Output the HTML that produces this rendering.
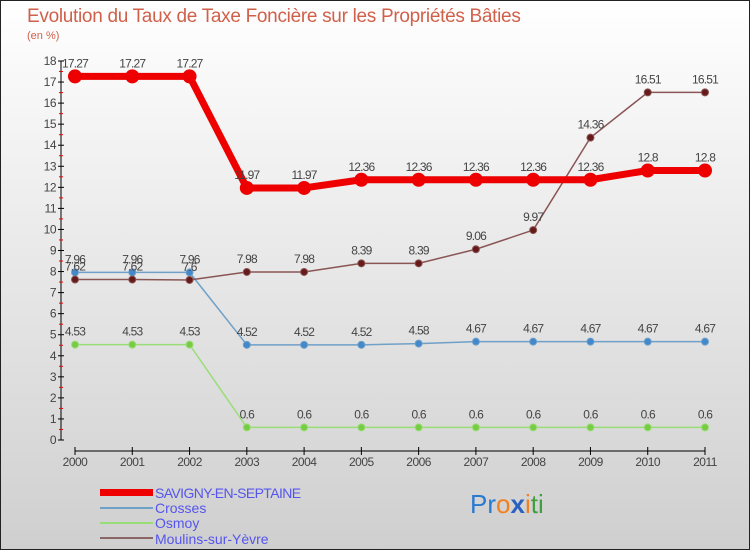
<!DOCTYPE html>
<html><head><meta charset="utf-8"><style>
body{margin:0}
svg text{font-family:"Liberation Sans",sans-serif}
</style></head><body>
<svg id="c" width="750" height="550" xmlns="http://www.w3.org/2000/svg">
<defs><linearGradient id="bg" x1="0" y1="0" x2="0" y2="1"><stop offset="0" stop-color="#ffffff"/><stop offset="1" stop-color="#cfcfcf"/></linearGradient></defs>
<rect x="0.5" y="0.5" width="749" height="549" fill="url(#bg)" stroke="#222"/>
<text x="27" y="22" font-size="19" fill="#d0604a" letter-spacing="-0.3">Evolution du Taux de Taxe Foncière sur les Propriétés Bâties</text>
<text x="27" y="39" font-size="11" fill="#d0604a">(en %)</text>
<g id="axes"></g><g id="series"></g>
<g>
<rect x="100" y="489" width="53" height="7" fill="#e00"/>
<text x="155" y="498" font-size="14" fill="#5555ee" letter-spacing="-0.6">SAVIGNY-EN-SEPTAINE</text>
<rect x="100" y="507" width="53" height="2" fill="#6fa0c8"/>
<text x="155" y="513" font-size="14" fill="#5555ee">Crosses</text>
<rect x="100" y="522" width="53" height="2" fill="#99dd77"/>
<text x="155" y="528" font-size="14" fill="#5555ee">Osmoy</text>
<rect x="100" y="537" width="53" height="2" fill="#8a6666"/>
<text x="155" y="544" font-size="14" fill="#5555ee">Moulins-sur-Yèvre</text>
</g>
<text x="470" y="513" font-size="26"><tspan fill="#2a7ad0">Pr</tspan><tspan fill="#f08020">o</tspan><tspan fill="#2a60c0" font-weight="bold">x</tspan><tspan fill="#f08020">i</tspan><tspan fill="#40a040">ti</tspan></text>
</svg>
<script>
const years=[2000,2001,2002,2003,2004,2005,2006,2007,2008,2009,2010,2011];
const savigny=[17.27,17.27,17.27,11.97,11.97,12.36,12.36,12.36,12.36,12.36,12.8,12.8];
const crosses=[7.96,7.96,7.96,4.52,4.52,4.52,4.58,4.67,4.67,4.67,4.67,4.67];
const osmoy=[4.53,4.53,4.53,0.6,0.6,0.6,0.6,0.6,0.6,0.6,0.6,0.6];
const moulins=[7.62,7.62,7.6,7.98,7.98,8.39,8.39,9.06,9.97,14.36,16.51,16.51];
const yTicks=[0,1,2,3,4,5,6,7,8,9,10,11,12,13,14,15,16,17,18];
const NS="http://www.w3.org/2000/svg";
const x=i=>75+i*(630/(years.length-1));
const y=v=>440-v*(379/18);
function mk(p,t,a){const e=document.createElementNS(NS,t);for(const k in a)e.setAttribute(k,a[k]);p.appendChild(e);return e;}
const ax=document.getElementById('axes');
let l=mk(ax,'line',{x1:61,y1:y(18),x2:61,y2:y(0),stroke:'#000'});


yTicks.forEach(v=>{
 mk(ax,'line',{x1:58,x2:64,y1:y(v),y2:y(v),stroke:'#000'});
 if(v<18)mk(ax,'line',{x1:59,x2:63,y1:y(v+0.5),y2:y(v+0.5),stroke:'#e00'});
 const t=mk(ax,'text',{x:56,y:y(v)+4,'font-size':12,fill:'#444','text-anchor':'end','letter-spacing':'-0.5'});
 t.textContent=v;
 
 
});
l=mk(ax,'line',{x1:x(0),y1:451,x2:x(years.length-1),y2:451,stroke:'#000'});


years.forEach((yr,i)=>{
 mk(ax,'line',{x1:x(i),x2:x(i),y1:447,y2:455,stroke:'#000'});
 const t=mk(ax,'text',{x:x(i),y:466,'font-size':12,fill:'#444','text-anchor':'middle','letter-spacing':'-0.5'});
 t.textContent=yr;
 
 
});
const sg=document.getElementById('series');
function draw(name,data,col,dot,w,r){
 const g=mk(sg,'g',{});
 
 
 mk(g,'polyline',{points:data.map((v,i)=>x(i)+','+y(v)).join(' '),fill:'none',stroke:col,'stroke-width':w,'stroke-linejoin':'round'});
 data.forEach((v,i)=>{
  const c=mk(g,'circle',{cx:x(i),cy:y(v),r:r,fill:dot,stroke:col,'stroke-width':1});
  
  
  const t=mk(g,'text',{x:x(i),y:y(v)-9,'font-size':12,fill:'#444','text-anchor':'middle','letter-spacing':'-0.8'});
  t.textContent=v;
  
  
 });
}
draw('osmoy',osmoy,'#99dd77','#77cc44',1.5,3.5);
draw('crosses',crosses,'#6fa0c8','#4488cc',1.5,3.5);
draw('moulins',moulins,'#8a5555','#661a1a',1.5,3.5);
draw('savigny',savigny,'#ee0000','#ee0000',7,6.5);
</script>
</body></html>
